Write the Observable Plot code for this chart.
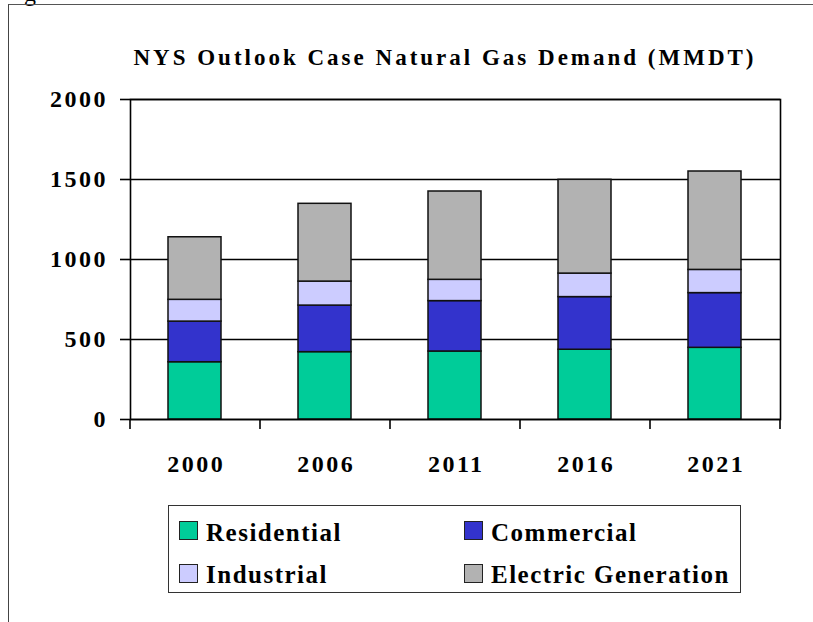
<!DOCTYPE html>
<html><head><meta charset="utf-8">
<script src="https://cdn.jsdelivr.net/npm/d3@7"></script>
<script src="https://cdn.jsdelivr.net/npm/@observablehq/plot@0.6"></script>
<style>
html,body{margin:0;padding:0;background:#fff;}
body{width:813px;height:622px;overflow:hidden;position:relative;font-family:"Liberation Serif","Tinos","DejaVu Serif",serif;color:#000;}
#page-frame{position:absolute;left:8px;top:4px;width:820px;height:640px;border-top:1.5px solid #555;border-left:1.5px solid #444;box-sizing:border-box;}
#corner{position:absolute;left:24px;top:-19px;font-size:24px;line-height:24px;}
#title{position:absolute;left:120px;width:650px;top:46px;text-align:center;font-size:23px;line-height:23px;font-weight:bold;letter-spacing:3px;white-space:nowrap;}
#chart{position:absolute;left:0;top:80px;}
#chart svg text{letter-spacing:2.5px;}
#legend{position:absolute;left:168px;top:505px;width:573px;height:88px;border:1.5px solid #333;box-sizing:border-box;}
.sw{position:absolute;width:19px;height:19px;border:1.5px solid #222;box-sizing:border-box;}
.lt{position:absolute;font-size:25px;line-height:25px;font-weight:bold;letter-spacing:1.5px;white-space:nowrap;}
</style></head><body>
<div id="corner">g</div>
<div id="page-frame"></div>
<div id="title"></div>
<div id="chart"></div>
<div id="legend"></div>
<script>
const title = "NYS Outlook Case Natural Gas Demand (MMDT)";
const years = ["2000", "2006", "2011", "2016", "2021"];
const seriesNames = ["Residential", "Commercial", "Industrial", "Electric Generation"];
const residential = [358, 421, 425, 436, 448];
const commercial = [254, 291, 315, 329, 342];
const industrial = [136, 150, 133, 147, 145];
const electricGeneration = [391, 486, 552, 586, 615];
const seriesColors = ["#00CC99", "#3333CC", "#CCCCFF", "#B2B2B2"];
const yTicks = [0, 500, 1000, 1500, 2000];

const seriesValues = [residential, commercial, industrial, electricGeneration];
const data = [];
seriesNames.forEach((s, si) => years.forEach((y, yi) => data.push({year: y, series: s, value: seriesValues[si][yi]})));

document.getElementById("title").textContent = title;

const W = 813, H = 420, mL = 130, mR = 33, mT = 19, mB = 81;
const step = (W - mL - mR) / years.length;

const chart = Plot.plot({
  width: W, height: H,
  marginLeft: mL, marginRight: mR, marginTop: mT, marginBottom: mB,
  style: {fontFamily: "'Liberation Serif','Tinos','DejaVu Serif',serif", fontSize: "24px", fontWeight: "bold", color: "#000", background: "transparent", overflow: "visible"},
  x: {domain: years, paddingInner: 0.59, paddingOuter: 0.295},
  y: {domain: [0, 2000]},
  color: {domain: seriesNames, range: seriesColors},
  marks: [
    Plot.ruleY(yTicks, {stroke: "#000", strokeWidth: 1.6}),
    Plot.barY(data, {x: "year", y: "value", fill: "series", stroke: "#111", strokeWidth: 1.5, order: seriesNames}),
    Plot.frame({stroke: "#000", strokeWidth: 1.6}),
    Plot.axisY({ticks: yTicks, tickFormat: d => String(d), tickSize: 10, tickPadding: 12.5, strokeWidth: 1.6, label: null}),
    Plot.axisX({tickSize: 0, tickPadding: 35.5, label: null, dx: 1.25}),
    Plot.axisX({ticks: years, tickSize: 10, fill: "none", strokeWidth: 1.6, label: null, dx: -step / 2}),
    Plot.axisX({ticks: [years[years.length - 1]], tickSize: 10, fill: "none", strokeWidth: 1.6, label: null, dx: step / 2})
  ]
});
document.getElementById("chart").appendChild(chart);

// legend (2 x 2 grid)
const legend = document.getElementById("legend");
const colX = [10, 295], rowY = [15, 58], textTop = [14, 56];
seriesNames.forEach((s, i) => {
  const c = i % 2, r = Math.floor(i / 2);
  const sw = document.createElement("div");
  sw.className = "sw";
  sw.style.left = colX[c] + "px";
  sw.style.top = rowY[r] + "px";
  sw.style.background = seriesColors[i];
  legend.appendChild(sw);
  const t = document.createElement("div");
  t.className = "lt";
  t.style.left = (colX[c] + 27) + "px";
  t.style.top = textTop[r] + "px";
  t.textContent = s;
  legend.appendChild(t);
});
</script>
</body></html>
